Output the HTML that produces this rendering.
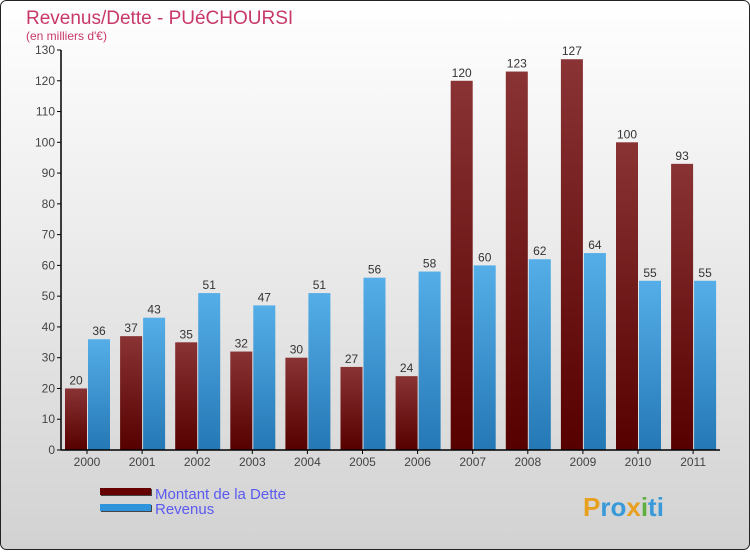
<!DOCTYPE html>
<html><head><meta charset="utf-8"><style>
body{margin:0;width:750px;height:550px;overflow:hidden;font-family:"Liberation Sans",sans-serif}
</style></head><body>
<svg id="chart" width="750" height="550" xmlns="http://www.w3.org/2000/svg">
<defs>
<linearGradient id="bg" x1="0" y1="0" x2="0" y2="1"><stop offset="0" stop-color="#ffffff"/><stop offset="1" stop-color="#d2d2d2"/></linearGradient>
<linearGradient id="gd" x1="0" y1="0" x2="0" y2="1"><stop offset="0" stop-color="#8a3334"/><stop offset="1" stop-color="#560000"/></linearGradient>
<linearGradient id="gr" x1="0" y1="0" x2="0" y2="1"><stop offset="0" stop-color="#55aee8"/><stop offset="1" stop-color="#2478b5"/></linearGradient>
</defs>
<rect x="0.5" y="0.5" width="749" height="549" rx="6" fill="url(#bg)" stroke="#222" stroke-width="1"/>
<text x="26" y="24" font-size="19" fill="#c8386a">Revenus/Dette - PUéCHOURSI</text>
<text x="26" y="40" font-size="12" fill="#c8386a">(en milliers d'€)</text>
<g id="plot"></g>
<g>
<rect x="101" y="489" width="51" height="7" fill="#444"/>
<rect x="100" y="488" width="51" height="7" fill="#660000"/>
<text x="155" y="499" font-size="15" fill="#5a5af0">Montant de la Dette</text>
<rect x="101" y="505" width="51" height="7" fill="#444"/>
<rect x="100" y="504" width="51" height="7" fill="#2f94dc"/>
<text x="155" y="514" font-size="15" fill="#5a5af0">Revenus</text>
</g>
<text x="583" y="516" font-size="26" font-weight="bold" fill="#3a9ad9" font-family="Liberation Sans,sans-serif"><tspan fill="#e8a020">P</tspan><tspan fill="#3a9ad9">ro</tspan><tspan fill="#e8a020">x</tspan><tspan fill="#60b040">i</tspan><tspan fill="#3a9ad9">ti</tspan></text>
</svg>
<script>
const years=["2000","2001","2002","2003","2004","2005","2006","2007","2008","2009","2010","2011"];
const dette=[20,37,35,32,30,27,24,120,123,127,100,93];
const revenus=[36,43,51,47,51,56,58,60,62,64,55,55];
const yTicks=[0,10,20,30,40,50,60,70,80,90,100,110,120,130];
const NS="http://www.w3.org/2000/svg";
const g=document.getElementById('plot');
const y0=450,yTop=50,yMax=130,x0=61,pitch=55.1,first=87,bw=22;
const yS=v=>y0-(v/yMax)*(y0-yTop);
const xC=i=>first+i*pitch;
function mk(t,a){const e=document.createElementNS(NS,t);for(const k in a)e.setAttribute(k,a[k]);g.appendChild(e);return e;}
yTicks.forEach(v=>{
 const l=mk('line',{x1:57,x2:x0,y1:yS(v),y2:yS(v),stroke:'#000'});
 
 
 const t=mk('text',{x:55,y:yS(v)+4,'font-size':12,fill:'#444','text-anchor':'end'});
 t.textContent=v;
 
 
});
years.forEach((yr,i)=>{
 const c=xC(i);
 [[dette[i],c-bw,'url(#gd)','bar-dette'],[revenus[i],c+1,'url(#gr)','bar-revenus']].forEach(([v,x,f,n])=>{
  const r=mk('rect',{x:x,y:yS(v),width:bw,height:y0-yS(v),fill:f});
  
  
  const t=mk('text',{x:x+bw/2,y:yS(v)-4,'font-size':12,fill:'#333','text-anchor':'middle'});
  t.textContent=v;
  
  
 });
 const tk=mk('line',{x1:c,x2:c,y1:y0,y2:y0+4,stroke:'#000'});
 
 
 const t=mk('text',{x:c,y:466,'font-size':12,fill:'#444','text-anchor':'middle'});
 t.textContent=yr;
 
 
});
const ya=mk('line',{x1:x0,x2:x0,y1:yTop,y2:y0,stroke:'#000','stroke-width':1.5});


const xa=mk('line',{x1:x0,x2:720,y1:y0,y2:y0,stroke:'#000','stroke-width':1.5});


</script>
</body></html>
